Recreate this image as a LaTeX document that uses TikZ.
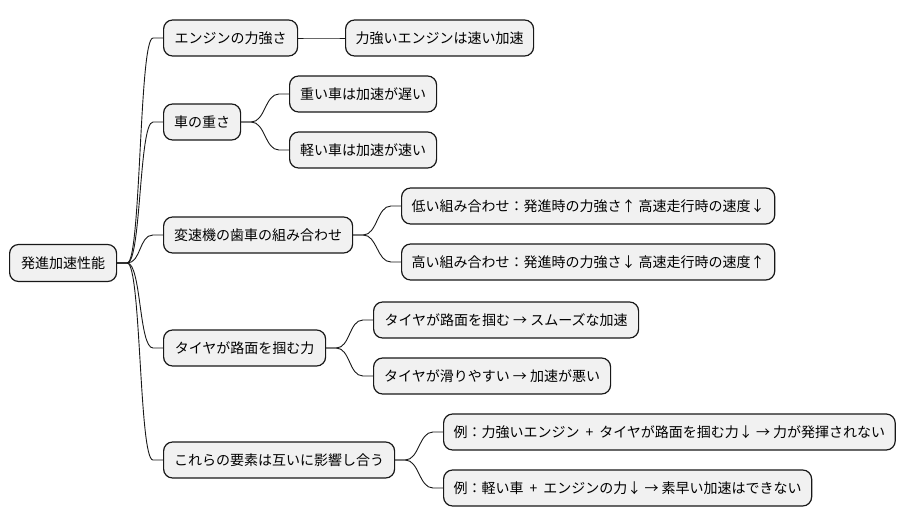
\documentclass[tikz,border=0pt]{standalone}
\usepackage{fontspec}
\setmainfont{Noto Sans CJK JP}
\definecolor{boxfill}{HTML}{F1F1F1}
\definecolor{boxline}{HTML}{181818}
\newcommand\mmlink[2]{\draw[link] (#1.east) -- ++(10,0) .. controls +(14,0) and +(-14,0) .. ([xshift=-10pt]#2.west) -- (#2.west);}
\newcommand\mmplus{\hspace{6pt}+\hspace{6pt}}
\begin{document}
\begin{tikzpicture}[x=1pt,y=-1pt,
  box/.style={draw=boxline, fill=boxfill, line width=1.2pt, rounded corners=9pt,
    anchor=west, minimum height=36pt, inner xsep=10pt, inner ysep=0pt,
    font=\fontsize{14}{17}\selectfont, text=black},
  link/.style={draw=boxline, line width=0.9pt}]
\useasboundingbox (0,0) rectangle (905,527);
% root
\node[box, minimum width=107pt, minimum height=37pt] (root) at (9,263) {発進加速性能};
% level 1
\node[box, minimum width=134pt] (e1) at (163,38) {エンジンの力強さ};
\node[box, minimum width=77pt]  (e2) at (163,122) {車の重さ};
\node[box, minimum width=189pt] (e3) at (163,235) {変速機の歯車の組み合わせ};
\node[box, minimum width=162pt] (e4) at (163,348) {タイヤが路面を掴む力};
\node[box, minimum width=231pt] (e5) at (163,460) {これらの要素は互いに影響し合う};
% level 2
\node[box, minimum width=188pt] (c11) at (345,38) {力強いエンジンは速い加速};
\node[box, minimum width=147pt] (c21) at (289,94) {重い車は加速が遅い};
\node[box, minimum width=147pt] (c22) at (289,150) {軽い車は加速が速い};
\node[box, minimum width=371pt] (c31) at (401,206) {低い組み合わせ：発進時の力強さ↑ 高速走行時の速度↓};
\node[box, minimum width=371pt] (c32) at (401,262) {高い組み合わせ：発進時の力強さ↓ 高速走行時の速度↑};
\node[box, minimum width=265pt] (c41) at (373,320) {タイヤが路面を掴む → スムーズな加速};
\node[box, minimum width=237pt] (c42) at (373,376) {タイヤが滑りやすい → 加速が悪い};
\node[box, minimum width=450pt] (c51) at (443,432) {例：力強いエンジン\mmplus タイヤが路面を掴む力↓ → 力が発揮されない};
\node[box, minimum width=368pt] (c52) at (443,488) {例：軽い車\mmplus エンジンの力↓ → 素早い加速はできない};
% links
\mmlink{root}{e1}
\mmlink{root}{e2}
\mmlink{root}{e3}
\mmlink{root}{e4}
\mmlink{root}{e5}
\mmlink{e1}{c11}
\mmlink{e2}{c21}
\mmlink{e2}{c22}
\mmlink{e3}{c31}
\mmlink{e3}{c32}
\mmlink{e4}{c41}
\mmlink{e4}{c42}
\mmlink{e5}{c51}
\mmlink{e5}{c52}
\end{tikzpicture}
\end{document}
